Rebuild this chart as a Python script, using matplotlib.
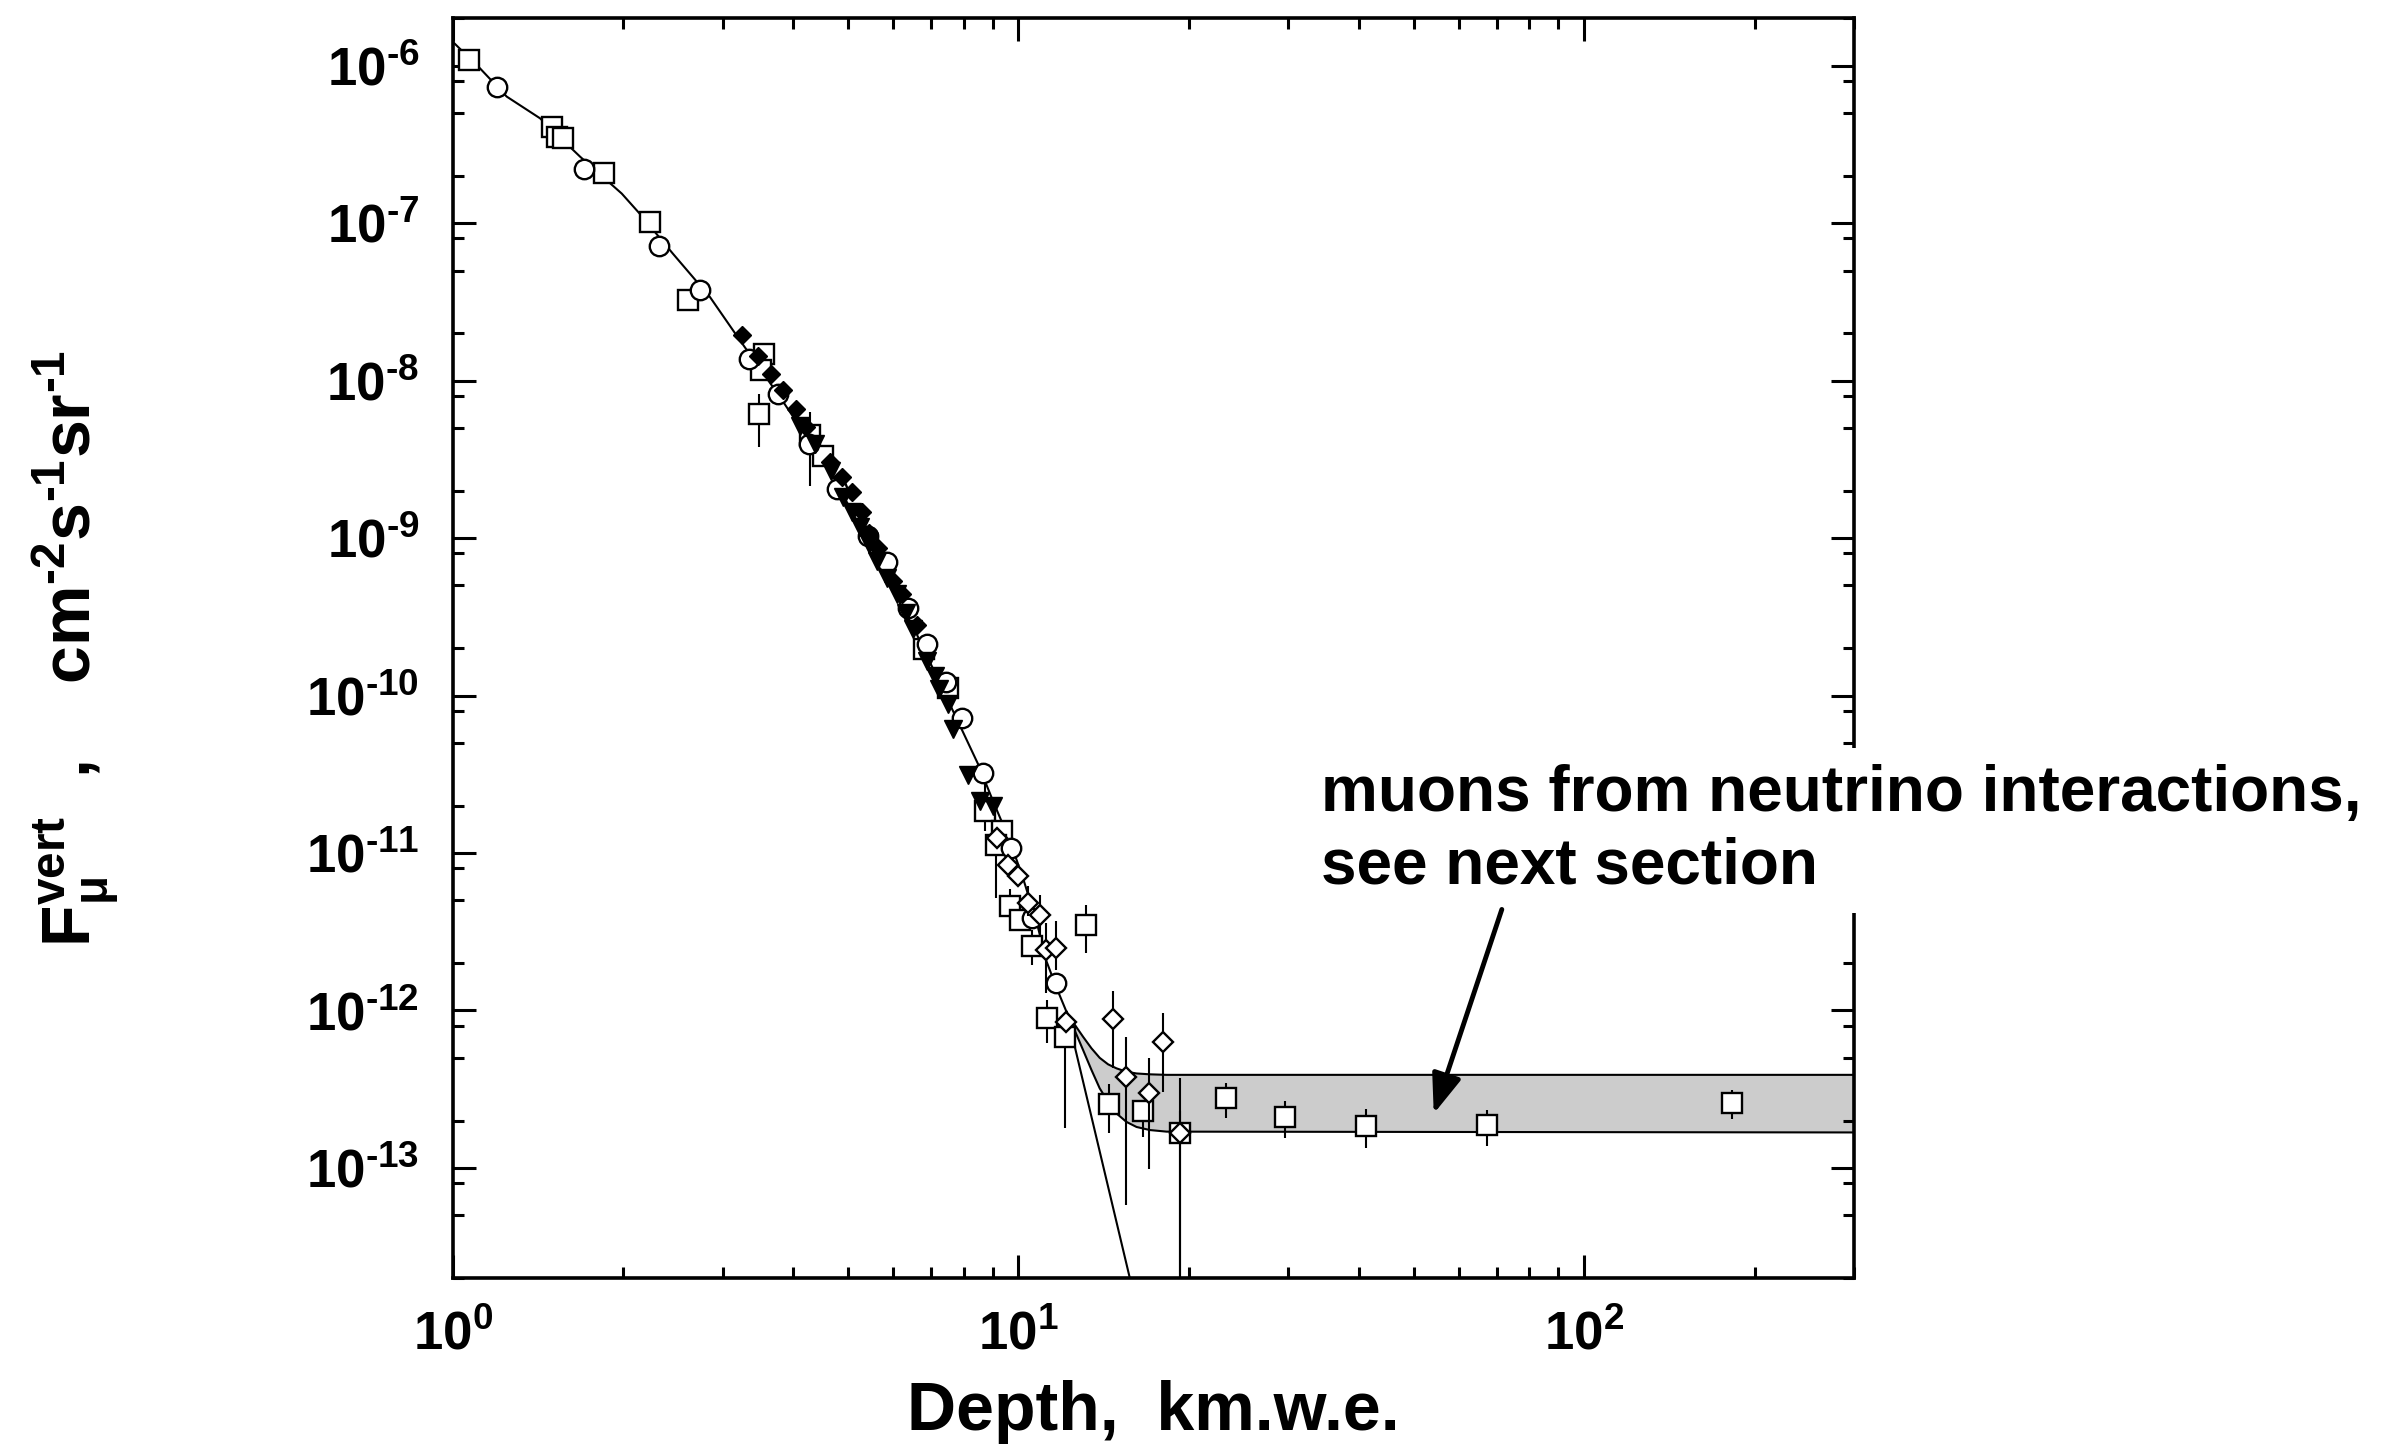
import numpy as np
import matplotlib
matplotlib.use('Agg')
import matplotlib.pyplot as plt
from matplotlib.ticker import LogLocator, FuncFormatter, NullFormatter

plt.rcParams['font.family'] = ['Liberation Sans', 'DejaVu Sans']
plt.rcParams['font.weight'] = 'bold'
plt.rcParams['mathtext.fontset'] = 'custom'
plt.rcParams['mathtext.rm'] = 'Liberation Sans:bold'
plt.rcParams['mathtext.bf'] = 'Liberation Sans:bold'
plt.rcParams['mathtext.it'] = 'Liberation Sans'
plt.rcParams['mathtext.default'] = 'rm'

# fitted curve (atmospheric muons)
curve_x = [1.0, 1.118, 1.246, 1.427, 1.68, 1.99, 2.14, 2.45, 2.85, 3.22, 3.79, 4.71,
           5.62, 6.61, 7.99, 8.49, 9.02, 9.66, 10.19, 10.76, 11.21, 11.67, 12.16]
curve_y = [1.42e-6, 9.6e-7, 6.36e-7, 4.63e-7, 2.64e-7, 1.54e-7, 1.15e-7, 6.4e-8, 3.39e-8,
           1.8e-8, 7.85e-9, 2.43e-9, 7.5e-10, 2.45e-10, 5.8e-11, 3.65e-11, 2.13e-11,
           1.19e-11, 6.9e-12, 3.68e-12, 2.05e-12, 1.4e-12, 9.8e-13]
steep_x = [12.16, 16.0]
steep_y = [9.8e-13, 1.55e-14]

# band of neutrino-induced muons
band_hi_x = [12.16, 12.58, 13.01, 13.46, 13.92, 14.40, 14.9, 15.52, 16.17, 17.07, 18.27, 300]
band_hi_y = [9.8e-13, 8.1e-13, 6.8e-13, 5.75e-13, 5.0e-13, 4.55e-13, 4.29e-13, 4.08e-13,
             3.98e-13, 3.93e-13, 3.9e-13, 3.9e-13]
band_lo_x = [12.16, 12.67, 13.01, 13.46, 13.92, 14.40, 14.9, 15.52, 16.17, 17.07, 18.27, 300]
band_lo_y = [9.8e-13, 7.0e-13, 5.6e-13, 4.19e-13, 3.2e-13, 2.63e-13, 2.22e-13, 1.96e-13,
             1.82e-13, 1.74e-13, 1.70e-13, 1.68e-13]

# open squares
sq_x = [1.07, 1.50, 1.53, 1.57, 1.85, 2.23, 2.61, 3.55, 3.51, 3.48, 4.29, 4.52, 6.81, 7.50,
        8.72, 9.37, 9.12, 9.66, 10.06, 10.55, 13.19, 11.21, 12.10, 14.46, 16.57, 19.28,
        23.3, 29.6, 41.1, 67.3, 182.4]
sq_y = [1.09e-6, 4.09e-7, 3.53e-7, 3.45e-7, 2.07e-7, 1.02e-7, 3.24e-8, 1.48e-8, 1.16e-8,
        6.15e-9, 4.48e-9, 3.3e-9, 1.97e-10, 1.12e-10, 1.86e-11, 1.37e-11, 1.12e-11,
        4.58e-12, 3.77e-12, 2.55e-12, 3.5e-12, 9.0e-13, 6.8e-13, 2.53e-13, 2.3e-13,
        1.66e-13, 2.77e-13, 2.11e-13, 1.85e-13, 1.87e-13, 2.57e-13]
sq_lo = [1.09e-6, 4.09e-7, 3.53e-7, 3.45e-7, 2.07e-7, 1.02e-7, 2.9e-8, 1.48e-8, 1.16e-8,
         3.77e-9, 2.15e-9, 3.3e-9, 1.97e-10, 1.12e-10, 1.37e-11, 1.37e-11, 5.2e-12,
         3.8e-12, 3.77e-12, 1.95e-12, 2.31e-12, 6.2e-13, 1.78e-13, 1.66e-13, 1.58e-13,
         1e-15, 2.06e-13, 1.54e-13, 1.33e-13, 1.37e-13, 2.04e-13]
sq_hi = [1.09e-6, 4.09e-7, 3.53e-7, 3.45e-7, 2.07e-7, 1.02e-7, 3.24e-8, 1.48e-8, 1.16e-8,
         8.24e-9, 6.3e-9, 3.3e-9, 1.97e-10, 1.12e-10, 2.86e-11, 1.37e-11, 1.3e-11,
         5.9e-12, 3.77e-12, 3.26e-12, 4.7e-12, 1.17e-12, 8.5e-13, 3.39e-13, 2.6e-13,
         3.7e-13, 3.44e-13, 2.67e-13, 2.37e-13, 2.33e-13, 3.13e-13]

# open diamonds
od_x = [9.15, 9.59, 10.0, 10.4, 10.9, 11.2, 11.67, 12.12, 14.67, 15.52, 16.98, 18.0, 19.28]
od_y = [1.25e-11, 8.4e-12, 7.1e-12, 4.8e-12, 4.05e-12, 2.43e-12, 2.49e-12, 8.5e-13,
        8.8e-13, 3.8e-13, 2.97e-13, 6.3e-13, 1.66e-13]
od_lo = [1.25e-11, 8.4e-12, 7.1e-12, 4.0e-12, 3.0e-12, 1.3e-12, 1.8e-12, 8.5e-13,
         4.3e-13, 5.8e-14, 9.9e-14, 3.05e-13, 1e-15]
od_hi = [1.25e-11, 8.4e-12, 7.1e-12, 6.2e-12, 5.4e-12, 3.6e-12, 3.7e-12, 8.5e-13,
         1.32e-12, 6.8e-13, 4.97e-13, 9.6e-13, 2.3e-13]

# open circles
ci_x = [1.20, 1.71, 2.32, 2.74, 3.34, 3.76, 4.26, 4.77, 5.43, 5.85, 6.38, 6.88, 7.46,
        7.94, 8.66, 9.72, 10.55, 11.67]
ci_y = [7.3e-7, 2.22e-7, 7.2e-8, 3.74e-8, 1.38e-8, 8.2e-9, 3.96e-9, 2.05e-9, 1.03e-9,
        7.0e-10, 3.6e-10, 2.12e-10, 1.21e-10, 7.2e-11, 3.23e-11, 1.08e-11, 3.86e-12, 1.49e-12]

# filled diamonds
fd_x = [3.24, 3.47, 3.65, 3.84, 4.05, 4.22, 4.64, 4.87, 5.07, 5.28, 5.45, 5.65, 6.01, 6.22, 6.63]
fd_y = [1.94e-8, 1.44e-8, 1.10e-8, 8.65e-9, 6.62e-9, 5.06e-9, 3.03e-9, 2.43e-9, 1.95e-9,
        1.46e-9, 1.07e-9, 8.7e-10, 5.35e-10, 4.4e-10, 2.8e-10]

# filled triangles
tr_x = [4.11, 4.37, 4.67, 4.90, 5.07, 5.25, 5.45, 5.62, 5.85, 6.09, 6.33, 6.52, 6.88,
        7.11, 7.25, 7.51, 7.65, 8.15, 8.55, 9.02]
tr_y = [5.18e-9, 3.96e-9, 2.68e-9, 1.81e-9, 1.46e-9, 1.17e-9, 9.1e-10, 7.2e-10, 5.6e-10,
        4.4e-10, 3.36e-10, 2.64e-10, 1.66e-10, 1.33e-10, 1.1e-10, 8.8e-11, 6.1e-11,
        3.15e-11, 2.13e-11, 1.98e-11]

fig = plt.figure(figsize=(23.95, 14.47), dpi=100)
ax = fig.add_axes([0.189, 0.1168, 0.5852, 0.8706])
ax.set_xscale('log')
ax.set_yscale('log')
ax.set_xlim(1, 300)
ax.set_ylim(2e-14, 2e-6)

# band
poly_x = np.concatenate([band_hi_x, band_lo_x[::-1]])
poly_y = np.concatenate([band_hi_y, band_lo_y[::-1]])
ax.fill(poly_x, poly_y, color='#cccccc', lw=0, zorder=1)
ax.plot(band_hi_x, band_hi_y, color='k', lw=1.5, zorder=2)
ax.plot(band_lo_x, band_lo_y, color='k', lw=1.5, zorder=2)
ax.plot(curve_x, curve_y, color='k', lw=1.5, zorder=2)
ax.plot(steep_x, steep_y, color='k', lw=1.5, zorder=2)

def err(y, lo, hi):
    y = np.array(y)
    return [y - np.array(lo), np.array(hi) - y]

ax.errorbar(sq_x, sq_y, yerr=err(sq_y, sq_lo, sq_hi), fmt='s', ms=14.5, mfc='white',
            mec='k', mew=1.7, ecolor='k', elinewidth=1.5, capsize=0, zorder=4)
ax.plot(ci_x, ci_y, 'o', ms=14, mfc='white', mec='k', mew=1.7, zorder=5)
ax.errorbar(od_x, od_y, yerr=err(od_y, od_lo, od_hi), fmt='D', ms=10.5, mfc='white',
            mec='k', mew=1.7, ecolor='k', elinewidth=1.5, capsize=0, zorder=5)
ax.plot(fd_x, fd_y, 'D', ms=9, mfc='k', mec='k', mew=1, zorder=6)
ax.plot(tr_x, tr_y, 'v', ms=13, mfc='k', mec='k', mew=1, zorder=6)

# ticks
def fmt(v, pos):
    e = int(round(np.log10(v)))
    if e < 0:
        return r'$10^{\text{-}%d}$' % (-e)
    return r'$10^{%d}$' % e

ax.xaxis.set_major_locator(LogLocator(base=10, subs=(1.0,)))
ax.xaxis.set_minor_locator(LogLocator(base=10, subs=np.arange(2, 10)))
ax.yaxis.set_major_locator(LogLocator(base=10, subs=(1.0,), numticks=20))
ax.yaxis.set_minor_locator(LogLocator(base=10, subs=(2, 5, 8), numticks=20))
ax.xaxis.set_major_formatter(FuncFormatter(fmt))
ax.yaxis.set_major_formatter(FuncFormatter(fmt))
ax.xaxis.set_minor_formatter(NullFormatter())
ax.yaxis.set_minor_formatter(NullFormatter())
ax.tick_params(which='both', direction='in', top=True, right=True, width=2.2)
ax.tick_params(which='major', length=16.5, labelsize=38)
ax.tick_params(which='minor', length=8)
ax.tick_params(axis='x', which='major', pad=23)
ax.tick_params(axis='y', which='major', pad=24)
for s in ax.spines.values():
    s.set_linewidth(2.6)

ax.set_xlabel('Depth,  km.w.e.', fontsize=49, fontweight='bold')
ax.xaxis.set_label_coords(0.5, -0.081)
fig.text(75.5 / 2395, 1 - 648 / 1447,
         r'$\mathbf{F}_{\mathit{\mu}}^{\mathbf{vert}}$  ,    $\mathbf{cm^{\text{-}2}s^{\text{-}1}sr^{\text{-}1}}$',
         rotation=90, ha='center', va='center', fontsize=49, fontweight='bold')

ax.text(34.2, 6.4e-12, 'muons from neutrino interactions,\nsee next section',
        fontsize=46, fontweight='bold', ha='left', va='baseline', linespacing=1.26,
        zorder=10, bbox=dict(facecolor='white', edgecolor='none', pad=12))
ax.annotate('', xy=(54.2, 2.21e-13), xytext=(71.5, 4.38e-12),
            arrowprops=dict(arrowstyle='-|>,head_length=1.2,head_width=0.45',
                            mutation_scale=20, lw=3.5, color='k',
                            shrinkA=0, shrinkB=0), zorder=11)

fig.savefig('out.png', dpi=100)
